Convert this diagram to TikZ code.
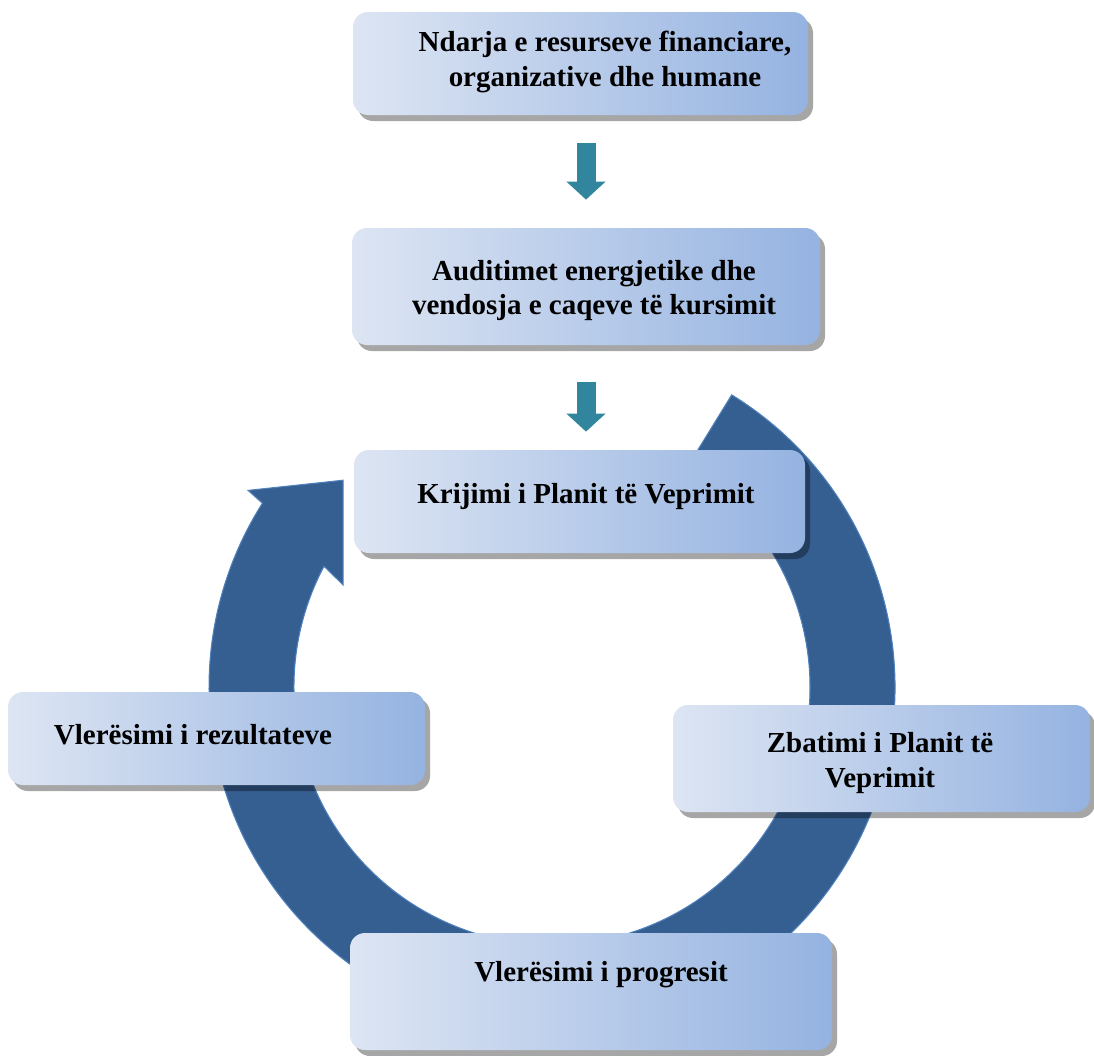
\documentclass[tikz,border=0pt]{standalone}
\usepackage{fontspec}
\setmainfont{Liberation Serif}
\usepackage{xcolor}
\usepackage{tikz}
\usetikzlibrary{arrows.meta, positioning, shadows}

\definecolor{boxleft}{RGB}{221,229,243}
\definecolor{boxright}{RGB}{149,179,225}
\definecolor{ringblue}{RGB}{54,95,145}
\definecolor{ringedge}{RGB}{79,129,189}
\definecolor{arrteal}{RGB}{49,133,156}

\begin{document}
\begin{tikzpicture}[
  stepbox/.style={rectangle, rounded corners=0.3cm,
                  left color=boxleft, right color=boxright, draw=none,
                  drop shadow={shadow xshift=0.1cm, shadow yshift=-0.12cm,
                               fill=black, opacity=0.35}},
  steptext/.style={font=\bfseries\fontsize{16.5}{19.5}\selectfont,
                   align=center, inner sep=0pt},
  downarr/.style={draw=arrteal, line width=0.38cm,
                  -{Triangle[width=0.76cm, length=0.36cm]}},
  ring/.style={fill=ringblue, draw=ringedge, line width=0.6pt}
]
\useasboundingbox (0,0) rectangle (21.88,-21.1);

%% ── cycle ring, drawn first so the boxes sit on top ─────────────────
\coordinate (ctr) at (11.04,-13.74);
\begin{scope}[shift={(ctr)}]
\path[ring] (58.4:6.86) arc[start angle=58.4, end angle=-212.4, radius=6.86]
  -- (147.1:7.24) -- (135.3:5.88) -- (153.96:4.65)
  -- (-207.9:5.16) arc[start angle=-207.9, end angle=58.4, radius=5.16]
  -- cycle;
\end{scope}

%% ── boxes placed by absolute position ───────────────────────────────
\node[stepbox, minimum width=9.1cm,  minimum height=2.06cm] at (11.61,-1.27)  (ndarja)   {};
\node[stepbox, minimum width=9.36cm, minimum height=2.34cm] at (11.72,-5.73)  (auditim)  {};
\node[stepbox, minimum width=9.02cm, minimum height=2.06cm] at (11.59,-10.03) (krijimi)  {};
\node[stepbox, minimum width=8.34cm, minimum height=1.86cm] at (4.33,-14.77)  (rezult)   {};
\node[stepbox, minimum width=8.34cm, minimum height=2.14cm] at (17.63,-15.17) (zbatimi)  {};
\node[stepbox, minimum width=9.64cm, minimum height=2.34cm] at (11.82,-19.83) (progres)  {};

%% ── box texts ───────────────────────────────────────────────────────
\node[steptext] at (12.1,-1.24)  (ndarjatxt)  {Ndarja e resurseve financiare,\\organizative dhe humane};
\node[steptext] at (11.88,-5.81) (auditimtxt) {Auditimet energjetike dhe\\vendosja e caqeve të kursimit};
\node[steptext] at (11.72,-9.94) (krijimitxt) {Krijimi i Planit të Veprimit};
\node[steptext] at (3.86,-14.7)  (rezulttxt)  {Vlerësimi i rezultateve};
\node[steptext] at (17.6,-15.26) (zbatimitxt) {Zbatimi i Planit të\\Veprimit};
\node[steptext] at (12.02,-19.5) (progrestxt) {Vlerësimi i progresit};

%% ── down arrows ─────────────────────────────────────────────────────
\draw[downarr, shorten <=0.56cm, shorten >=0.56cm] (auditim.north |- ndarja.south) -- (auditim.north);
\draw[downarr, shorten <=0.74cm, shorten >=0.36cm] (auditim.south) -- (auditim.south |- krijimi.north);

\end{tikzpicture}
\end{document}
